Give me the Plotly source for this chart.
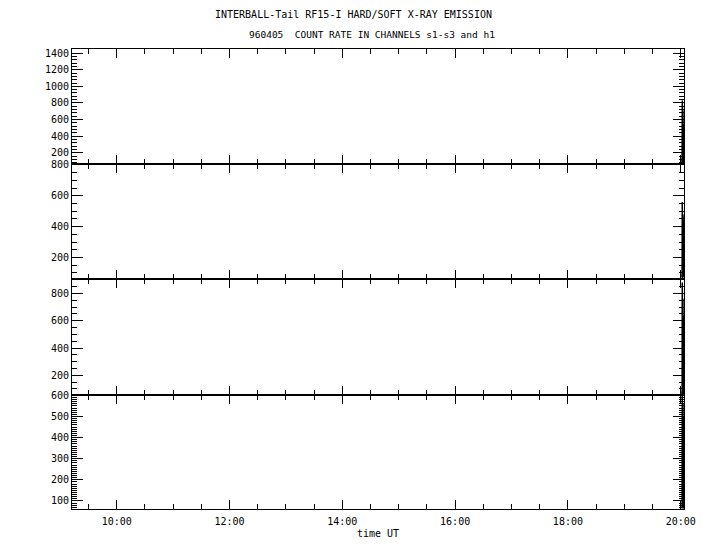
import plotly.graph_objects as go
from plotly.subplots import make_subplots

# ---- data ----
times = ["1996-04-05 20:01:10", "1996-04-05 20:01:20", "1996-04-05 20:01:30",
         "1996-04-05 20:01:40", "1996-04-05 20:01:50", "1996-04-05 20:02:00",
         "1996-04-05 20:02:10", "1996-04-05 20:02:20", "1996-04-05 20:02:30",
         "1996-04-05 20:02:40", "1996-04-05 20:02:50", "1996-04-05 20:03:00",
         "1996-04-05 20:03:10", "1996-04-05 20:03:20"]
s1 = [120, 480, 90, 830, 150, 620, 80, 710, 200, 380, 70, 540, 110, 300]
s2 = [90, 420, 70, 560, 130, 300, 65, 480, 110, 250, 80, 390, 75, 200]
s3 = [80, 700, 60, 880, 150, 520, 70, 760, 120, 400, 60, 640, 90, 300]
h1 = [70, 450, 65, 600, 120, 380, 66, 560, 100, 300, 64, 500, 80, 250]

series = [s1, s2, s3, h1]
yranges = [[64, 1450], [61, 806], [56, 905], [62, 602]]
ydticks = [200, 200, 200, 100]
yminor = [40, 50, 50, 10]

title1 = "INTERBALL-Tail RF15-I HARD/SOFT X-RAY EMISSION"
title2 = "960405  COUNT RATE IN CHANNELS s1-s3 and h1"
xlabel = "time UT"
xrange_ = ["1996-04-05 09:12:24", "1996-04-05 20:03:30"]

FONT = "DejaVu Sans Mono"

fig = make_subplots(rows=4, cols=1, shared_xaxes=True, vertical_spacing=0)
for i, ys in enumerate(series):
    fig.add_trace(go.Scatter(x=times, y=ys, mode="lines",
                             line=dict(color="black", width=1.5),
                             showlegend=False), row=i + 1, col=1)

domains = [[345 / 460, 1.0], [230 / 460, 345 / 460], [114 / 460, 230 / 460], [0.0, 114 / 460]]
for i in range(4):
    fig.update_yaxes(row=i + 1, col=1, range=yranges[i], dtick=ydticks[i],
                     tick0=0, domain=domains[i],
                     showline=True, linecolor="black", linewidth=1,
                     mirror="ticks", ticks="inside", ticklen=11, tickwidth=1,
                     tickcolor="black", showgrid=False, zeroline=False,
                     minor=dict(dtick=yminor[i], ticks="inside", ticklen=5,
                                tickcolor="black", tickwidth=1, showgrid=False),
                     tickfont=dict(family=FONT, size=10, color="black"))
    fig.update_xaxes(row=i + 1, col=1, type="date", range=xrange_,
                     tick0="1996-04-05 00:00:00", dtick=7200000,
                     tickformat="%H:%M",
                     showline=True, linecolor="black", linewidth=1,
                     mirror="ticks", ticks="inside", ticklen=9, tickwidth=1,
                     tickcolor="black", showgrid=False, zeroline=False,
                     minor=dict(dtick=1800000, ticks="inside", ticklen=5,
                                tickcolor="black", tickwidth=1, showgrid=False),
                     tickfont=dict(family=FONT, size=10, color="black"))

fig.update_xaxes(row=4, col=1, showticklabels=True, ticklabelstandoff=3)

fig.add_annotation(text=title1, xref="paper", yref="paper",
                   x=(353 - 72) / 612, y=1 + (49 - 15) / 460,
                   xanchor="center", yanchor="middle", showarrow=False,
                   font=dict(family=FONT, size=10, color="black"))
fig.add_annotation(text=title2, xref="paper", yref="paper",
                   x=(372 - 72) / 612, y=1 + (49 - 35) / 460,
                   xanchor="center", yanchor="middle", showarrow=False,
                   font=dict(family=FONT, size=9.5, color="black"))
fig.add_annotation(text=xlabel, xref="paper", yref="paper",
                   x=0.5, y=-(533 - 509) / 460,
                   xanchor="center", yanchor="middle", showarrow=False,
                   font=dict(family=FONT, size=10, color="black"))

fig.update_layout(width=712, height=542,
                  margin=dict(l=64, r=36, t=41, b=41),
                  paper_bgcolor="white", plot_bgcolor="white",
                  showlegend=False)

fig.write_html("out.html")
